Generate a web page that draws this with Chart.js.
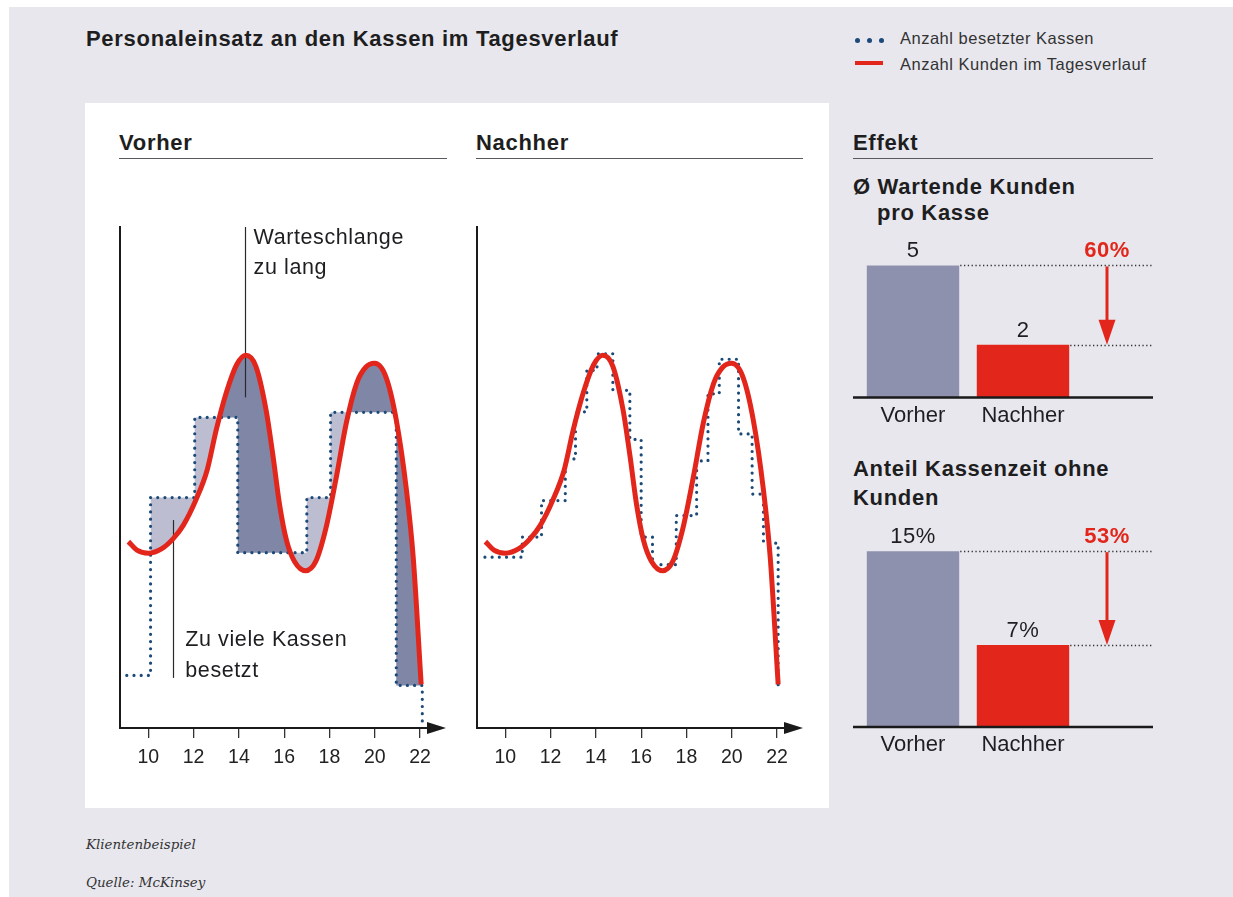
<!DOCTYPE html>
<html lang="de">
<head>
<meta charset="utf-8">
<title>Personaleinsatz an den Kassen im Tagesverlauf</title>
<script src="https://cdn.jsdelivr.net/npm/chart.js@4.4.1/dist/chart.umd.min.js"></script>
<style>
  html, body { margin: 0; padding: 0; background: #fff; }
  body { position: relative; width: 1233px; height: 897px; overflow: hidden;
         font-family: "Liberation Sans", Arial, sans-serif; color: #1e1e21; }
  .abs   { position: absolute; white-space: nowrap; }
  #page  { left: 9px; top: 7px; width: 1224px; height: 890px; background: #e8e7ee; }
  #panel { left: 85px; top: 103px; width: 744px; height: 705px; background: #fff; }
  .head  { font-size: 22px; line-height: 26px; font-weight: bold; letter-spacing: 0.7px; }
  .rule  { height: 1px; background: #5a5a5e; }
  .legend { font-size: 16.5px; line-height: 20px; letter-spacing: 0.5px; color: #333; }
  .dot   { width: 5px; height: 5px; border-radius: 50%; background: #1b4a78; }
  .foot  { font-family: "DejaVu Serif", serif; font-style: italic; font-size: 13.4px;
           line-height: 16px; color: #333; }
  canvas { position: absolute; }
</style>
</head>
<body>
<div id="page" class="abs"></div>
<div id="panel" class="abs"></div>

<div class="abs head" style="left:86px; top:26px">Personaleinsatz an den Kassen im Tagesverlauf</div>

<div class="abs dot" style="left:855px; top:38px"></div>
<div class="abs dot" style="left:867px; top:38px"></div>
<div class="abs dot" style="left:879px; top:38px"></div>
<div class="abs legend" style="left:900px; top:28px">Anzahl besetzter Kassen</div>
<div class="abs" style="left:855px; top:61px; width:28px; height:4px; background:#e3261b"></div>
<div class="abs legend" style="left:900px; top:54px">Anzahl Kunden im Tagesverlauf</div>

<div class="abs head" style="left:119px; top:130px">Vorher</div>
<div class="abs rule" style="left:119px; top:158px; width:328px"></div>
<div class="abs head" style="left:476px; top:130px">Nachher</div>
<div class="abs rule" style="left:476px; top:158px; width:327px"></div>
<div class="abs head" style="left:853px; top:130px">Effekt</div>
<div class="abs rule" style="left:853px; top:158px; width:300px"></div>

<div class="abs head" style="left:853px; top:174px">Ø Wartende Kunden</div>
<div class="abs head" style="left:877px; top:200px">pro Kasse</div>
<div class="abs head" style="left:853px; top:456px">Anteil Kassenzeit ohne</div>
<div class="abs head" style="left:853px; top:485px">Kunden</div>

<div class="abs foot" style="left:86px; top:837px">Klientenbeispiel</div>
<div class="abs foot" style="left:86px; top:875px">Quelle: McKinsey</div>

<canvas id="vorher"  width="370" height="589" style="left:100px; top:200px"></canvas>
<canvas id="nachher" width="370" height="589" style="left:457px; top:200px"></canvas>
<canvas id="effekt1" width="320" height="216" style="left:843px; top:225px"></canvas>
<canvas id="effekt2" width="320" height="266" style="left:843px; top:505px"></canvas>

<script>
// ---- Daten ------------------------------------------------------------
const hourTicks = [10, 12, 14, 16, 18, 20, 22];

// Kunden im Tagesverlauf: Stunde / Niveau
const customerHours  = [9.12, 9.5, 10.0, 10.6, 11.1, 11.55, 12.1, 12.6, 13.0, 13.45, 13.9, 14.3,
                        14.75, 15.2, 15.5, 15.8, 16.1, 16.45, 16.95, 17.4, 17.85, 18.3, 18.75,
                        19.2, 19.6, 20.0, 20.5, 20.95, 21.4, 21.7, 22.05];
const customerLevels = [3.72, 3.55, 3.49, 3.58, 3.78, 4.05, 4.55, 5.15, 5.95, 6.7, 7.25, 7.44,
                        7.22, 6.35, 5.45, 4.45, 3.75, 3.33, 3.14, 3.33, 4.0, 5.0, 6.1,
                        6.88, 7.2, 7.28, 7.0, 6.15, 4.75, 3.4, 0.87];

// besetzte Kassen vorher: Niveau gilt ab dieser Stunde bis zur nächsten
const vorherStepHours  = [9.05, 10.1, 12.05, 13.95, 17.0, 18.05, 20.95, 22.1];
const vorherStepLevels = [1.05, 4.6, 6.2, 3.5, 4.6, 6.3, 0.85, 0.1];

// besetzte Kassen nachher
const nachherStepHours  = [9.1, 10.75, 11.6, 12.65, 13.1, 13.6, 14.05, 14.75, 15.5, 16.0,
                           16.5, 17.55, 18.45, 18.95, 19.45, 20.3, 20.9, 21.4, 22.05];
const nachherStepLevels = [3.41, 3.81, 4.54, 5.37, 6.31, 7.14, 7.47, 6.74, 5.76, 3.81,
                           3.26, 4.24, 5.33, 6.67, 7.36, 5.87, 4.67, 3.69, 0.84];

// Effekt
const effectCategories = ['Vorher', 'Nachher'];
const waitingCustomers = [5, 2];     // Ø wartende Kunden pro Kasse
const idleShare        = [15, 7];    // Anteil Kassenzeit ohne Kunden in %

// ---- Stil ---------------------------------------------------------------
const RED       = '#e3261b';
const DOT_BLUE  = '#1b4a78';
const FILL_LITE = '#bcbdd1';
const FILL_DARK = '#7f86a6';
const BAR_GREY  = '#8d91ad';
const INK       = '#1e1e21';
const FONT      = '"Liberation Sans", Arial, sans-serif';

Chart.defaults.font.family = FONT;
Chart.defaults.color = INK;
Chart.defaults.animation = false;
Chart.defaults.plugins.legend.display = false;
Chart.defaults.plugins.tooltip.enabled = false;

const toPoints = (xs, ys) => xs.map((x, i) => ({ x, y: ys[i] }));

// Pfeilspitze am Ende der Zeitachse
const axisArrow = {
  id: 'axisArrow',
  afterDraw(chart) {
    const { ctx, chartArea: a } = chart;
    ctx.save();
    ctx.fillStyle = '#1a1a1a';
    ctx.beginPath();
    ctx.moveTo(a.right - 3, a.bottom - 6);
    ctx.lineTo(a.right + 16, a.bottom);
    ctx.lineTo(a.right - 3, a.bottom + 6);
    ctx.closePath();
    ctx.fill();
    ctx.restore();
  },
};

// Beschriftungen "Warteschlange zu lang" / "Zu viele Kassen besetzt"
const vorherNotes = {
  id: 'vorherNotes',
  afterDatasetDraw(chart, args) {
    if (args.index !== 2) return;          // nach der Füllung, vor den Linien
    const { ctx, chartArea: a, scales: { x, y } } = chart;
    ctx.save();
    ctx.strokeStyle = '#2a2a2a';
    ctx.lineWidth = 1.2;
    const qx = Math.round(x.getPixelForValue(14.25)) + 0.5;
    ctx.beginPath(); ctx.moveTo(qx, a.top); ctx.lineTo(qx, y.getPixelForValue(6.6)); ctx.stroke();
    const ox = Math.round(x.getPixelForValue(11.08)) + 0.5;
    ctx.beginPath(); ctx.moveTo(ox, y.getPixelForValue(4.15)); ctx.lineTo(ox, y.getPixelForValue(1.0)); ctx.stroke();
    ctx.restore();
  },
  afterDatasetsDraw(chart) {
    const { ctx, chartArea: a, scales: { x } } = chart;
    const qx = x.getPixelForValue(14.25);
    const ox = x.getPixelForValue(11.08);
    ctx.save();
    ctx.font = '21.5px ' + FONT;
    ctx.letterSpacing = '0.6px';
    ctx.fillStyle = INK;
    ctx.textBaseline = 'alphabetic';
    ctx.fillText('Warteschlange', qx + 9, a.top + 17);
    ctx.fillText('zu lang', qx + 9, a.top + 47);
    ctx.fillText('Zu viele Kassen', ox + 12.5, a.bottom - 82);
    ctx.fillText('besetzt', ox + 12.5, a.bottom - 51);
    ctx.restore();
  },
};

function lineScales() {
  return {
    x: {
      type: 'linear', min: 8.75, max: 22.44,
      afterBuildTicks: (s) => { s.ticks = hourTicks.map(v => ({ value: v })); },
      grid:   { display: true, drawOnChartArea: false, drawTicks: true, tickLength: 10,
                color: '#333', lineWidth: 1.3 },
      border: { display: true, color: '#1a1a1a', width: 2 },
      ticks:  { font: { size: 19.5 }, color: '#222', padding: 8, maxRotation: 0 },
    },
    y: {
      min: 0, max: 10,
      grid:   { display: false, drawTicks: false },
      border: { display: true, color: '#1a1a1a', width: 2 },
      ticks:  { display: false },
    },
  };
}

function curveDataset() {
  return {
    data: toPoints(customerHours, customerLevels),
    borderColor: RED, borderWidth: 5, pointRadius: 0,
    cubicInterpolationMode: 'monotone', fill: false, order: 0,
  };
}

function stepDataset(hours, levels) {
  return {
    data: toPoints(hours, levels),
    borderColor: DOT_BLUE, borderWidth: 3.2, borderDash: [0, 7.2], borderCapStyle: 'round',
    stepped: true, pointRadius: 0, fill: false, order: 1,
  };
}

// ---- Vorher -------------------------------------------------------------
new Chart(document.getElementById('vorher'), {
  type: 'line',
  data: {
    datasets: [
      curveDataset(),
      stepDataset(vorherStepHours, vorherStepLevels),
      {
        // Fläche zwischen Kassen-Stufen und Kundenkurve (ab Öffnung 10 Uhr)
        data: toPoints(vorherStepHours.slice(1), vorherStepLevels.slice(1)),
        stepped: true, borderWidth: 0, pointRadius: 0, order: 2,
        backgroundColor: FILL_LITE,
        fill: { target: 0, above: FILL_LITE, below: FILL_DARK },
      },
    ],
  },
  options: {
    responsive: false,
    layout: { padding: { left: 20, right: 40, top: 27, bottom: 11.6 } },
    scales: lineScales(),
  },
  plugins: [axisArrow, vorherNotes],
});

// ---- Nachher ------------------------------------------------------------
new Chart(document.getElementById('nachher'), {
  type: 'line',
  data: {
    datasets: [
      curveDataset(),
      stepDataset(nachherStepHours, nachherStepLevels),
    ],
  },
  options: {
    responsive: false,
    layout: { padding: { left: 20, right: 40, top: 27, bottom: 11.6 } },
    scales: lineScales(),
  },
  plugins: [axisArrow],
});

// ---- Effekt-Balken ------------------------------------------------------
const effectMarks = {
  id: 'effectMarks',
  afterDatasetsDraw(chart, args, opts) {
    const { ctx, chartArea: a, scales: { y } } = chart;
    const bars = chart.getDatasetMeta(0).data;
    const vals = chart.data.datasets[0].data;
    const left = a.left - 5, right = chart.width - 10;
    const base = y.getPixelForValue(0);
    ctx.save();
    // Grundlinie
    ctx.strokeStyle = '#1a1a1a';
    ctx.lineWidth = 2.5;
    ctx.beginPath(); ctx.moveTo(left, base); ctx.lineTo(right, base); ctx.stroke();
    // gepunktete Hilfslinien
    ctx.strokeStyle = '#333';
    ctx.lineWidth = 1.3;
    ctx.setLineDash([1.3, 2.5]);
    bars.forEach(b => {
      const yy = Math.round(b.y) + 0.5;
      ctx.beginPath(); ctx.moveTo(b.x + b.width / 2 + 1, yy); ctx.lineTo(right, yy); ctx.stroke();
    });
    ctx.setLineDash([]);
    // Werte
    ctx.font = '22px ' + FONT;
    ctx.letterSpacing = '0.5px';
    ctx.fillStyle = INK;
    ctx.textAlign = 'center';
    ctx.textBaseline = 'middle';
    bars.forEach((b, i) => ctx.fillText(vals[i] + opts.unit, b.x, b.y - 14));
    // Pfeil + Veränderung
    const ax = a.right + 29, y1 = bars[0].y, y2 = bars[1].y;
    ctx.strokeStyle = RED;
    ctx.fillStyle = RED;
    ctx.lineWidth = 3;
    ctx.beginPath(); ctx.moveTo(ax, y1 + 1); ctx.lineTo(ax, y2 - 22); ctx.stroke();
    ctx.beginPath();
    ctx.moveTo(ax - 8.5, y2 - 25); ctx.lineTo(ax + 8.5, y2 - 25); ctx.lineTo(ax, y2);
    ctx.closePath(); ctx.fill();
    const pct = Math.round((vals[0] - vals[1]) / vals[0] * 100) + '%';
    ctx.font = 'bold 22px ' + FONT;
    ctx.fillText(pct, ax, y1 - 14);
    ctx.restore();
  },
};

function effectChart(id, values, yMax, unit, padTop, padBottom) {
  return new Chart(document.getElementById(id), {
    type: 'bar',
    data: {
      labels: effectCategories,
      datasets: [{
        data: values,
        backgroundColor: [BAR_GREY, RED],
        barPercentage: 0.84, categoryPercentage: 1.0,
      }],
    },
    options: {
      responsive: false,
      layout: { padding: { left: 15, right: 85, top: padTop, bottom: padBottom } },
      scales: {
        x: {
          grid:   { display: false, drawTicks: false },
          border: { display: false },
          ticks:  { font: { size: 22 }, color: INK, padding: 5 },
        },
        y: { display: false, min: 0, max: yMax },
      },
      plugins: { effectMarks: { unit } },
    },
    plugins: [effectMarks],
  });
}

effectChart('effekt1', waitingCustomers, 6, '', 14, 7);
effectChart('effekt2', idleShare, 18, '%', 11, 7.6);
</script>
</body>
</html>
